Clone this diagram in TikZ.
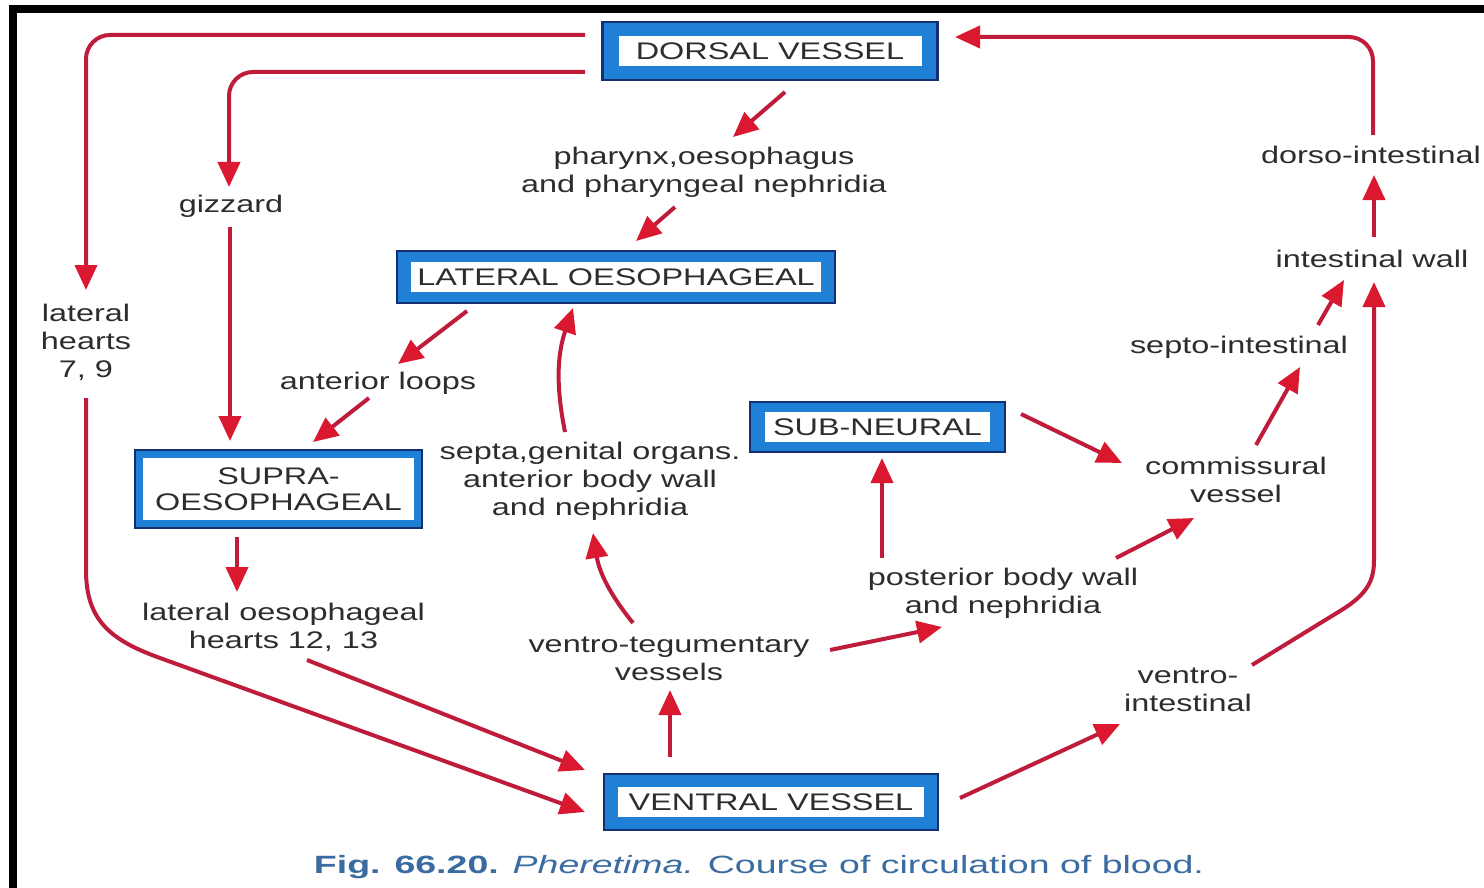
\documentclass[tikz,border=0pt]{standalone}
\usepackage{fontspec}
\setmainfont{Liberation Sans}[FakeStretch=1.35]
\newfontfamily\capfont{Liberation Sans}[FakeStretch=1.5]
\usetikzlibrary{arrows.meta,calc}
\definecolor{linered}{RGB}{190,28,58}
\definecolor{tipred}{RGB}{218,24,48}
\definecolor{navy}{RGB}{18,48,112}
\definecolor{band}{RGB}{32,128,214}
\definecolor{txt}{RGB}{45,45,45}
\definecolor{capblue}{RGB}{58,108,162}
\begin{document}
\begin{tikzpicture}[x=0.5pt,y=-0.5pt,
  lab/.style={font=\fontsize{12}{14}\selectfont, text=txt, align=center, inner sep=0pt},
  inset/.code 2 args={\def\bxi{#1}\def\byi{#2}},
  vbox/.style={draw=navy, fill=band, line width=1.2pt, inner sep=0pt,
    font=\fontsize{12}{13}\selectfont, text=txt, align=center,
    path picture={\fill[white] ([shift={(\bxi,-\byi)}]path picture bounding box.north west)
      rectangle ([shift={(-\bxi,\byi)}]path picture bounding box.south east);}},
  arr/.style={draw=linered, line width=2pt, -{Triangle[length=12.5pt,width=11pt,color=tipred]}},
]
\useasboundingbox (0,0) rectangle (1484,888);
\fill[white] (0,0) rectangle (1484,888);
\fill[black] (9,5) rectangle (1484,13);
\fill[black] (9,5) rectangle (17,888);

% boxes
\node[vbox, inset={8pt}{7pt}, minimum width=167.5pt, minimum height=29pt] (dorsal) at (770,51) {DORSAL VESSEL};
\node[vbox, inset={7pt}{5.5pt}, minimum width=219pt, minimum height=26pt] (lato) at (616,277) {LATERAL OESOPHAGEAL};
\node[vbox, inset={7.5pt}{5pt}, minimum width=127.5pt, minimum height=25pt] (subn) at (877.5,427) {SUB-NEURAL};
\node[vbox, inset={4pt}{4pt}, minimum width=143.5pt, minimum height=39pt] (supra) at (278.5,489) {SUPRA-\\OESOPHAGEAL};
\node[vbox, inset={7pt}{6.5pt}, minimum width=167pt, minimum height=28pt] (ventral) at (771,802) {VENTRAL VESSEL};

% labels
\node[lab] (phar) at (704,172) {pharynx,oesophagus\\and pharyngeal nephridia};
\node[lab] (gizz) at (231,206) {gizzard};
\node[lab] (lath) at (86,342) {lateral\\hearts\\7, 9};
\node[lab] (dorsoint) at (1371,155) {dorso-intestinal};
\node[lab] (intwall) at (1372,259) {intestinal wall};
\node[lab] (septoint) at (1239,347) {septo-intestinal};
\node[lab] (antl) at (378,383) {anterior loops};
\node[lab] (septa) at (590,481) {septa,genital organs.\\anterior body wall\\and nephridia};
\node[lab] (commis) at (1236,480) {commissural\\vessel};
\node[lab] (latoes) at (283.5,627) {lateral oesophageal\\hearts 12, 13};
\node[lab] (postb) at (1003,593) {posterior body wall\\and nephridia};
\node[lab] (vteg) at (669,659) {ventro-tegumentary\\vessels};
\node[lab] (vint) at (1188,690) {ventro-\\intestinal};
\node[text=capblue, inner sep=0pt, font=\capfont\fontsize{12.5}{14}\selectfont] (cap) at (759,867)
  {\textbf{Fig. 66.20.} \textit{Pheretima.} Course of circulation of blood.};

% connectors
\draw[arr, rounded corners=12pt] ($(dorsal)+(-185,-16)$) -| ($(lath)+(0,-52)$);
\draw[arr, rounded corners=12pt] ($(dorsal)+(-185,21)$) -| ($(gizz)+(-2,-19)$);
\draw[arr] ($(gizz)+(-1,21)$) -- ($(supra)+(-48.5,-48)$);
\draw[arr] ($(dorsal)+(15,41)$) -- ($(phar)+(29,-35)$);
\draw[arr] ($(phar)+(-29,35)$) -- ($(lato)+(20,-36)$);
\draw[arr] ($(lato)+(-149,34)$) -- ($(antl)+(20,-19)$);
\draw[arr] ($(antl)+(-9,15)$) -- ($(supra)+(34.5,-47)$);
\draw[arr] ($(supra)+(-41.5,48)$) -- ($(latoes)+(-46.5,-35)$);
\draw[arr] ($(lath)+(0,56)$) -- (86,570) .. controls (86,620) and (110,640) .. (160,658) -- ($(ventral)+(-186,10)$);
\draw[arr] ($(latoes)+(23.5,33)$) -- ($(ventral)+(-186,-32)$);
\draw[arr] ($(ventral)+(-101,-45)$) -- ($(vteg)+(1,31)$);
\draw[arr] ($(vteg)+(-36,-36)$) to[bend left=15] ($(septa)+(3,52)$);
\draw[arr] ($(septa)+(-25,-49)$) to[bend left=15] ($(lato)+(-43,31)$);
\draw[arr] ($(vteg)+(161,-9)$) -- ($(postb)+(-61,34)$);
\draw[arr] ($(postb)+(-121,-35)$) -- ($(subn)+(4.5,31)$);
\draw[arr] ($(subn)+(143.5,-13)$) -- ($(commis)+(-114,-17)$);
\draw[arr] ($(postb)+(113,-35)$) -- ($(commis)+(-42,38)$);
\draw[arr] ($(commis)+(20,-35)$) -- ($(septoint)+(61,20)$);
\draw[arr] ($(septoint)+(79,-22)$) -- ($(intwall)+(-28,21)$);
\draw[arr] ($(ventral)+(189,-4)$) -- ($(vint)+(-68,34)$);
\draw[arr] ($(vint)+(64,-25)$) -- (1340,611) .. controls (1368,594) and (1374,580) .. (1374,560) -- ($(intwall)+(2,23)$);
\draw[arr] ($(intwall)+(2,-22)$) -- ($(dorsoint)+(3,20)$);
\draw[arr, rounded corners=12pt] ($(dorsoint)+(2,-20)$) |- ($(dorsal)+(185,-14)$);
\end{tikzpicture}
\end{document}
